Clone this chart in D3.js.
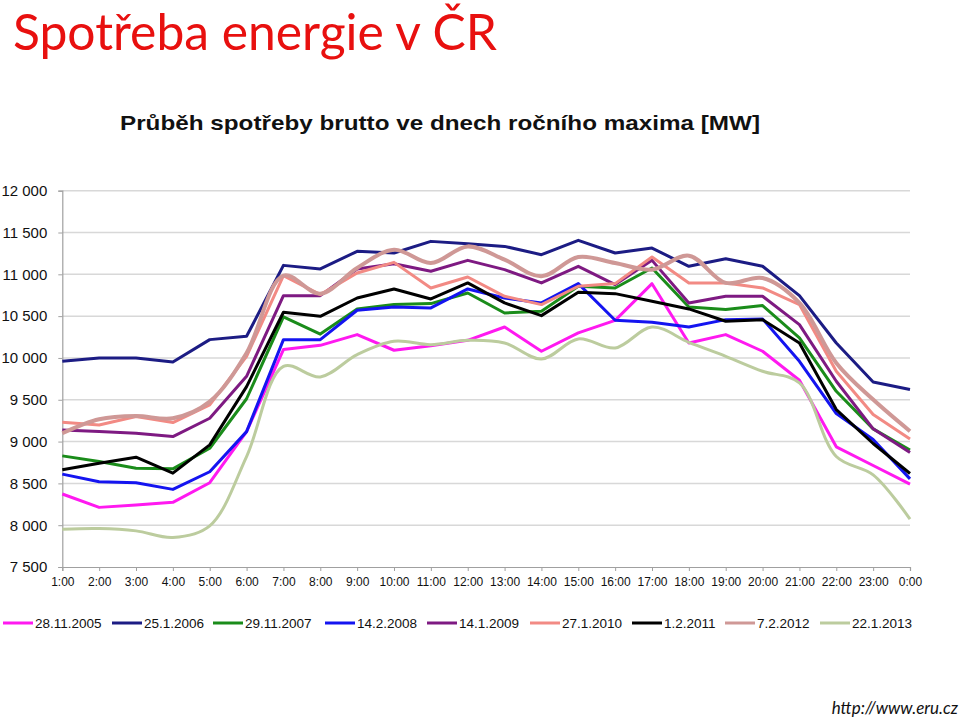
<!DOCTYPE html>
<html><head><meta charset="utf-8">
<script src="https://cdn.jsdelivr.net/npm/d3@7"></script>
<style>
body{margin:0;background:#fff;}
svg{display:block;}
</style></head>
<body>
<svg id="c" width="960" height="719"></svg>
<script>
const hours = ["1:00","2:00","3:00","4:00","5:00","6:00","7:00","8:00","9:00","10:00","11:00","12:00","13:00","14:00","15:00","16:00","17:00","18:00","19:00","20:00","21:00","22:00","23:00","0:00"];
const yTicks = [7500,8000,8500,9000,9500,10000,10500,11000,11500,12000];
const seriesNames = ["28.11.2005","25.1.2006","29.11.2007","14.2.2008","14.1.2009","27.1.2010","1.2.2011","7.2.2012","22.1.2013"];
const seriesColors = ["#ff19f0","#1c1c84","#1a8c1a","#1414f0","#7e1a82","#f28a84","#000000","#cf9896","#bccc9e"];
const seriesWidths = [3,3,3,3,3,3,3,4,3];
const seriesSmooth = [false,false,false,false,false,false,false,true,true];

const v2005 = [8373,8213,8241,8273,8508,9119,10100,10151,10279,10092,10147,10211,10370,10080,10299,10450,10888,10179,10279,10080,9733,8937,8714,8492];
const v2006 = [9960,10000,10000,9952,10219,10259,11107,11064,11275,11255,11394,11366,11334,11235,11406,11255,11314,11096,11187,11096,10745,10179,9713,9622];
const v2007 = [8829,8761,8682,8674,8920,9512,10492,10285,10586,10638,10650,10777,10538,10558,10857,10837,11076,10610,10578,10626,10239,9601,9152,8900];
const v2008 = [8611,8520,8508,8428,8639,9119,10219,10219,10570,10610,10598,10825,10717,10658,10889,10451,10426,10370,10458,10466,9960,9335,9024,8554];
const v2009 = [9139,9119,9100,9060,9279,9781,10745,10745,11064,11127,11036,11167,11056,10897,11096,10877,11167,10658,10737,10737,10399,9721,9152,8869];
const v2010 = [9231,9199,9299,9227,9438,10020,10984,10757,11016,11143,10837,10968,10737,10638,10857,10889,11207,10897,10897,10837,10638,9841,9323,9032];
const v2011 = [8662,8741,8813,8622,8960,9657,10546,10498,10717,10825,10705,10897,10658,10506,10785,10769,10678,10586,10439,10458,10179,9383,8977,8618];
const v2012 = [9100,9267,9307,9279,9478,10060,10984,10769,11076,11295,11135,11334,11175,10976,11207,11135,11056,11223,10897,10956,10658,9940,9502,9124];
const v2013 = [7952,7960,7932,7853,7992,8821,9900,9773,10040,10199,10159,10211,10179,9988,10227,10119,10370,10187,10020,9841,9701,8821,8602,8072];
const seriesValues = [v2005,v2006,v2007,v2008,v2009,v2010,v2011,v2012,v2013];

const svg = d3.select("#c");
const x = d3.scalePoint().domain(hours).range([62.3, 910]);
const y = d3.scaleLinear().domain([7500, 12000]).range([567, 190.7]);

// Big slide title
svg.append("text").attr("x", 13).attr("y", 50)
  .attr("font-family", "Lato, 'Open Sans', sans-serif").attr("font-size", 50)
  .attr("fill", "#e8100f").attr("textLength", 484).attr("lengthAdjust", "spacingAndGlyphs")
  .text("Spotřeba energie v ČR");

// Chart title
svg.append("text").attr("x", 120).attr("y", 130)
  .attr("font-family", "'Liberation Sans', Arial, sans-serif").attr("font-size", 21).attr("font-weight", "bold")
  .attr("fill", "#111").attr("textLength", 640).attr("lengthAdjust", "spacingAndGlyphs")
  .text("Průběh spotřeby brutto ve dnech ročního maxima [MW]");

// Gridlines
svg.append("g").selectAll("line").data(yTicks.filter(d => d !== 7500)).join("line")
  .attr("x1", 62.3).attr("x2", 910).attr("y1", d => y(d)).attr("y2", d => y(d))
  .attr("stroke", "#d8d8d8").attr("stroke-width", 1.5);

// Y axis
const fmt = d => d3.format(",")(d).replace(",", " ");
const yAxis = svg.append("g").attr("transform", "translate(62.3,0)")
  .call(d3.axisLeft(y).tickValues(yTicks).tickFormat(fmt).tickSize(4).tickPadding(11));
yAxis.select(".domain").attr("stroke", "#a0a0a0").attr("stroke-width", 1.2);
yAxis.selectAll(".tick line").attr("stroke", "#a0a0a0");
yAxis.selectAll("text").attr("font-family", "'Liberation Sans', Arial, sans-serif").attr("font-size", 15).attr("fill", "#111");

// X axis
const xAxis = svg.append("g").attr("transform", "translate(0,567)")
  .call(d3.axisBottom(x).tickSize(4).tickPadding(6));
xAxis.select(".domain").attr("stroke", "#a0a0a0").attr("stroke-width", 1.2);
xAxis.selectAll(".tick line").attr("stroke", "#a0a0a0");
xAxis.selectAll("text").attr("font-family", "'Liberation Sans', Arial, sans-serif").attr("font-size", 12).attr("fill", "#111");

// Lines
const lineStraight = d3.line().x((d, i) => x(hours[i])).y(d => y(d));
const lineSmooth = d3.line().x((d, i) => x(hours[i])).y(d => y(d)).curve(d3.curveCatmullRom.alpha(0.5));
svg.append("g").selectAll("path").data(seriesValues).join("path")
  .attr("d", (d, i) => (seriesSmooth[i] ? lineSmooth : lineStraight)(d))
  .attr("fill", "none")
  .attr("stroke", (d, i) => seriesColors[i])
  .attr("stroke-width", (d, i) => seriesWidths[i])
  .attr("stroke-linejoin", "round");

// Legend
const legendX = [3, 112, 213, 325, 427, 530, 632, 725, 820];
const lg = svg.append("g").selectAll("g").data(seriesNames).join("g")
  .attr("transform", (d, i) => `translate(${legendX[i]},623)`);
lg.append("line").attr("x1", 0).attr("x2", 30).attr("y1", 0).attr("y2", 0)
  .attr("stroke", (d, i) => seriesColors[i]).attr("stroke-width", 3);
lg.append("text").attr("x", 32).attr("y", 5)
  .attr("font-family", "'Liberation Sans', Arial, sans-serif").attr("font-size", 13.5).attr("fill", "#111")
  .text(d => d);

// URL
svg.append("text").attr("x", 958).attr("y", 714).attr("text-anchor", "end")
  .attr("font-family", "Lato, 'Open Sans', sans-serif").attr("font-style", "italic").attr("font-size", 17)
  .attr("fill", "#111").text("http://www.eru.cz");
</script>
</body></html>
